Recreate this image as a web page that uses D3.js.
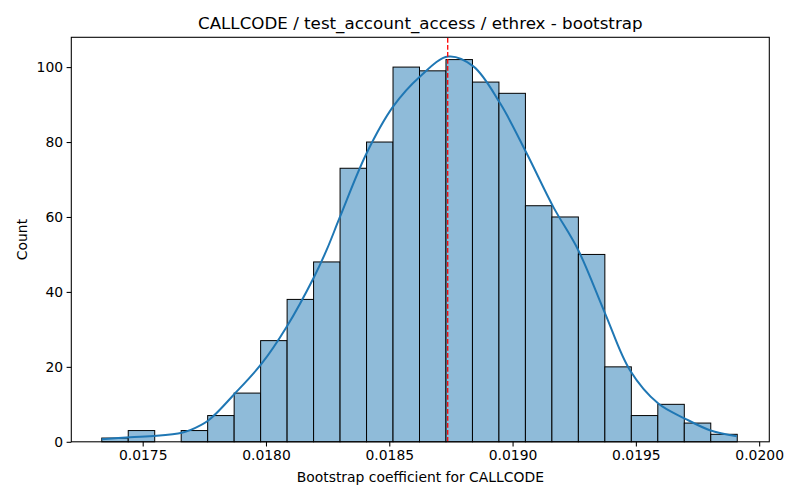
<!DOCTYPE html>
<html>
<head>
<meta charset="utf-8">
<script src="https://cdn.jsdelivr.net/npm/d3@7"></script>
<style>
  body { margin: 0; background: #fff; }
  svg text { font-family: "DejaVu Sans", sans-serif; fill: #000; }
</style>
</head>
<body>
<div id="plot"></div>
<script>
// histogram of 1000 bootstrap samples, 24 bins
const binStart = 0.017334;
const binWidth = 0.00010738;
const counts = [1, 3, 0, 3, 7, 13, 27, 38, 48, 73, 80, 100, 99, 102, 96, 93, 63, 60, 50, 20, 7, 10, 5, 2];

// kde line (x value, count)
const kdeX = [0.017334, 0.017449, 0.017557, 0.017659, 0.017692, 0.017766, 0.017874, 0.017983,
              0.018084, 0.018195, 0.018246, 0.018300, 0.018408, 0.018516, 0.018625, 0.018739,
              0.018841, 0.018949, 0.019057, 0.019165, 0.019266, 0.019375, 0.019476, 0.019591,
              0.019699, 0.019800, 0.019909];
const kdeY = [0.7, 1.2, 1.6, 2.4, 3.1, 5.7, 12.9, 20.9,
              30.7, 44, 51.2, 60, 77, 89.5, 97.5, 102.8,
              100.2, 90.4, 77, 62.7, 51.2, 34.3, 19.1, 10.2,
              6.2, 3.1, 1.5];

const meanValue = 0.018737;

const xTicks = [0.0175, 0.0180, 0.0185, 0.0190, 0.0195, 0.0200];
const yTicks = [0, 20, 40, 60, 80, 100];

const titleText = "CALLCODE / test_account_access / ethrex - bootstrap";
const xLabel = "Bootstrap coefficient for CALLCODE";
const yLabel = "Count";

const w = 800, h = 500;
const margin = {left: 71.3, right: 800 - 769.3, top: 37.3, bottom: 500 - 441.8};

const svg = d3.select("#plot")
  .append("svg")
  .attr("width", w)
  .attr("height", h);

const x = d3.scaleLinear()
  .domain([0.0172105, 0.0200411])
  .range([margin.left, w - margin.right]);
const y = d3.scaleLinear()
  .domain([0, 107.95])
  .range([h - margin.bottom, margin.top]);

//-------------------bars---------------------------
const bins = counts.map((c, i) => ({x0: binStart + i * binWidth, x1: binStart + (i + 1) * binWidth, count: c}));

svg.append("g")
  .selectAll("rect")
  .data(bins.filter(d => d.count > 0))
  .enter()
  .append("rect")
  .attr("x", d => x(d.x0))
  .attr("y", d => y(d.count))
  .attr("width", d => x(d.x1) - x(d.x0))
  .attr("height", d => y(0) - y(d.count))
  .attr("fill", "#8fbbd9")
  .attr("stroke", "#000")
  .attr("stroke-width", 1);

//-------------------kde line------------------------
const kde = kdeX.map((v, i) => [v, kdeY[i]]);
svg.append("path")
  .datum(kde)
  .attr("d", d3.line().x(d => x(d[0])).y(d => y(d[1])).curve(d3.curveCatmullRom))
  .attr("fill", "none")
  .attr("stroke", "#1f77b4")
  .attr("stroke-width", 2);

//-------------------mean line-----------------------
svg.append("line")
  .attr("x1", x(meanValue))
  .attr("x2", x(meanValue))
  .attr("y1", y.range()[0])
  .attr("y2", y.range()[1])
  .attr("stroke", "red")
  .attr("stroke-width", 1.3)
  .attr("stroke-dasharray", "4.9,2.1");

//-------------------axes----------------------------
const xAxis = d3.axisBottom(x).tickValues(xTicks).tickFormat(d3.format(".4f"))
  .tickSize(4.7).tickPadding(3.5);
const yAxis = d3.axisLeft(y).tickValues(yTicks).tickFormat(d3.format("d"))
  .tickSize(4.7).tickPadding(3.5);

const gx = svg.append("g")
  .attr("transform", "translate(0," + y.range()[0] + ")")
  .call(xAxis);
const gy = svg.append("g")
  .attr("transform", "translate(" + margin.left + ",0)")
  .call(yAxis);

[gx, gy].forEach(g => {
  g.select(".domain").remove();
  g.selectAll(".tick line").attr("stroke", "#000").attr("stroke-width", 1.07);
  g.selectAll(".tick text").style("font-size", "13.9px").attr("fill", "#000");
});

// frame
svg.append("rect")
  .attr("x", margin.left)
  .attr("y", margin.top)
  .attr("width", x.range()[1] - x.range()[0])
  .attr("height", y.range()[0] - y.range()[1])
  .attr("fill", "none")
  .attr("stroke", "#000")
  .attr("stroke-width", 1.07);

//-------------------labels--------------------------
const cx = (x.range()[0] + x.range()[1]) / 2;
svg.append("text")
  .attr("x", cx)
  .attr("y", 29)
  .attr("text-anchor", "middle")
  .style("font-size", "16.7px")
  .text(titleText);

svg.append("text")
  .attr("x", cx)
  .attr("y", 481.5)
  .attr("text-anchor", "middle")
  .style("font-size", "13.9px")
  .text(xLabel);

svg.append("text")
  .attr("transform", "translate(27," + (y.range()[0] + y.range()[1]) / 2 + ") rotate(-90)")
  .attr("text-anchor", "middle")
  .style("font-size", "13.9px")
  .text(yLabel);
</script>
</body>
</html>
